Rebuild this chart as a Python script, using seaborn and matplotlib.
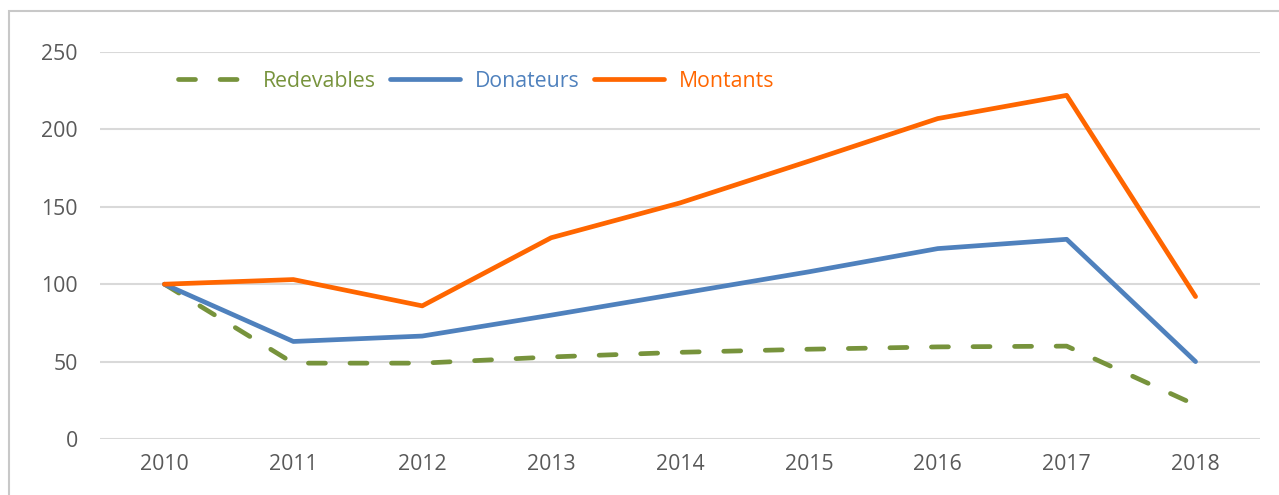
import pandas as pd
import matplotlib.pyplot as plt
import seaborn as sns
from matplotlib.patches import Rectangle

years = [2010, 2011, 2012, 2013, 2014, 2015, 2016, 2017, 2018]
redevables = [100, 49, 49, 53, 56, 58, 59.5, 60, 22]
donateurs = [100, 63, 66.5, 80, 94, 108, 123, 129, 50]
montants = [100, 103, 86, 130, 152.5, 179.5, 207, 222, 92]

series = ['Redevables', 'Donateurs', 'Montants']
colors = {'Redevables': '#77933C', 'Donateurs': '#4F81BD', 'Montants': '#FF6600'}

df = pd.DataFrame({'Année': years * 3,
                   'Valeur': redevables + donateurs + montants,
                   'Série': ['Redevables'] * 9 + ['Donateurs'] * 9 + ['Montants'] * 9})

sns.set_style('white')
plt.rcParams['font.family'] = ['Open Sans', 'DejaVu Sans']

LW = 3.4
DASH = (3.6, 5.2)
FS = 15.3

fig = plt.figure(figsize=(12.79, 4.95), dpi=100)
ax = fig.add_axes([100 / 1279, 56 / 495, 1160 / 1279, 387 / 495])

sns.lineplot(data=df, x='Année', y='Valeur', hue='Série', style='Série',
             hue_order=series, style_order=series, palette=colors,
             dashes={'Redevables': DASH, 'Donateurs': '', 'Montants': ''},
             linewidth=LW, ax=ax, legend=False)
for line in ax.get_lines():
    line.set_solid_capstyle('round')
    line.set_dash_capstyle('round')

ax.set_xlim(2009.5, 2018.5)
ax.set_ylim(0, 250)
ax.set_yticks([0, 50, 100, 150, 200, 250])
ax.set_xticks(years)
ax.yaxis.grid(True, color='#D9D9D9', linewidth=1.5)
ax.set_axisbelow(True)
for s in ax.spines.values():
    s.set_visible(False)
ax.set_xlabel('')
ax.set_ylabel('')
ax.tick_params(axis='both', length=0, labelsize=FS, labelcolor='#595959')
ax.tick_params(axis='y', pad=16)
ax.tick_params(axis='x', pad=11)

# legend
handles = [plt.Line2D([], [], color=colors[s], linewidth=LW,
                      linestyle=(0, DASH) if s == 'Redevables' else '-',
                      dash_capstyle='round', solid_capstyle='round') for s in series]
leg = ax.legend(handles, series, loc='center left', bbox_to_anchor=(0.051, 0.925),
                ncol=3, frameon=False, fontsize=FS, handlelength=3.3,
                handletextpad=0.7, columnspacing=0.65)
for txt, s in zip(leg.get_texts(), series):
    txt.set_color(colors[s])

# chart frame
fig.patches.append(Rectangle((9 / 1279, -0.1), 1.2, (495 - 11) / 495 + 0.1,
                             transform=fig.transFigure, fill=False,
                             edgecolor='#C8C8C8', linewidth=1.5))

fig.savefig('out.png', dpi=100)
